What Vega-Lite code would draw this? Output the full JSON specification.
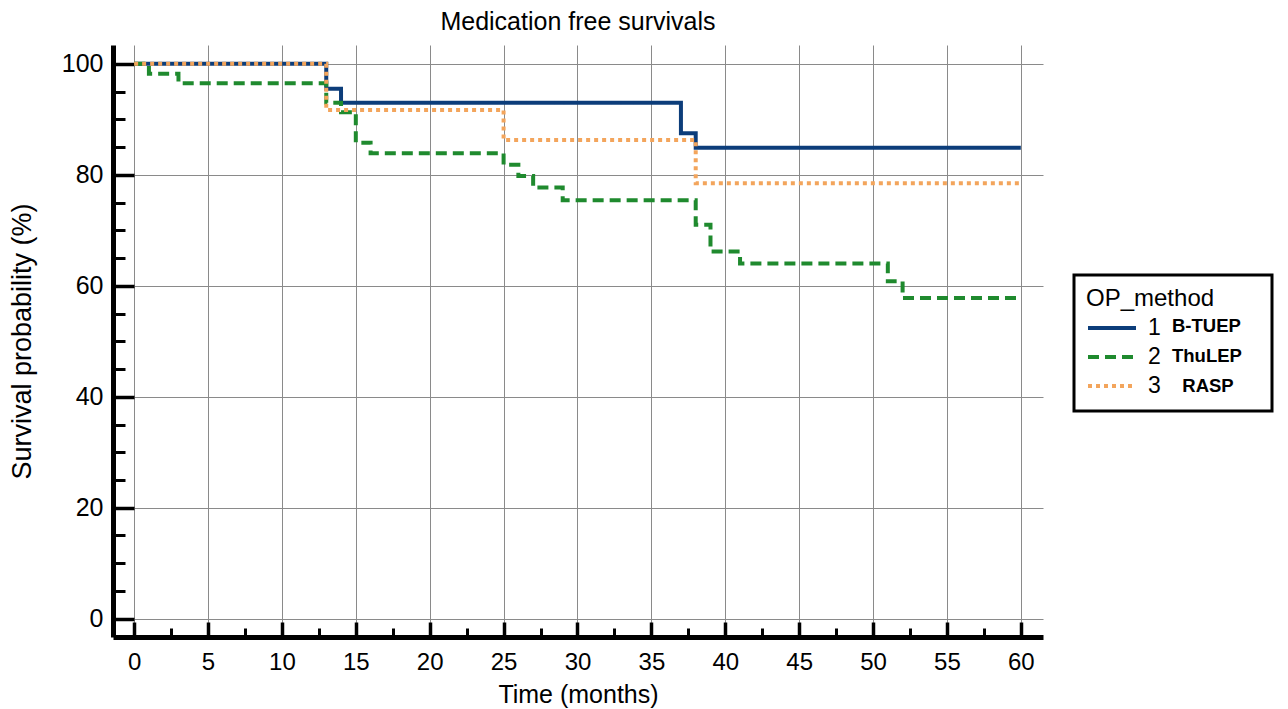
{
  "$schema": "https://vega.github.io/schema/vega-lite/v6.json",
  "autosize": "none",
  "width": 930,
  "height": 592,
  "padding": {"left": 113, "top": 45, "right": 245, "bottom": 72},
  "background": "white",
  "config": {
    "font": "Liberation Sans",
    "view": {"stroke": null},
    "axis": {"labelColor": "black", "titleColor": "black", "titleFontWeight": "normal", "labelFont": "Liberation Sans", "titleFont": "Liberation Sans"},
    "legend": {"labelFont": "Liberation Sans", "titleFont": "Liberation Sans", "strokeWidth": 3}
  },
  "title": {"text": "Medication free survivals", "fontSize": 25, "fontWeight": "normal", "color": "black", "anchor": "middle", "offset": 10, "font": "Liberation Sans"},
  "data": {
    "values": [
      {"group": "1", "name": "B-TUEP", "t": 0, "s": 100},
      {"group": "1", "name": "B-TUEP", "t": 13, "s": 95.5},
      {"group": "1", "name": "B-TUEP", "t": 14, "s": 93.0},
      {"group": "1", "name": "B-TUEP", "t": 37, "s": 87.5},
      {"group": "1", "name": "B-TUEP", "t": 38, "s": 84.9},
      {"group": "1", "name": "B-TUEP", "t": 60, "s": 84.9},
      {"group": "2", "name": "ThuLEP", "t": 0, "s": 100},
      {"group": "2", "name": "ThuLEP", "t": 1, "s": 98.2},
      {"group": "2", "name": "ThuLEP", "t": 3, "s": 96.5},
      {"group": "2", "name": "ThuLEP", "t": 13, "s": 93.0},
      {"group": "2", "name": "ThuLEP", "t": 14, "s": 91.3},
      {"group": "2", "name": "ThuLEP", "t": 15, "s": 85.8},
      {"group": "2", "name": "ThuLEP", "t": 16, "s": 83.9},
      {"group": "2", "name": "ThuLEP", "t": 25, "s": 81.8},
      {"group": "2", "name": "ThuLEP", "t": 26, "s": 79.8},
      {"group": "2", "name": "ThuLEP", "t": 27, "s": 77.7},
      {"group": "2", "name": "ThuLEP", "t": 29, "s": 75.4},
      {"group": "2", "name": "ThuLEP", "t": 38, "s": 71.0},
      {"group": "2", "name": "ThuLEP", "t": 39, "s": 66.2},
      {"group": "2", "name": "ThuLEP", "t": 41, "s": 64.0},
      {"group": "2", "name": "ThuLEP", "t": 51, "s": 60.8},
      {"group": "2", "name": "ThuLEP", "t": 52, "s": 57.8},
      {"group": "2", "name": "ThuLEP", "t": 60, "s": 57.8},
      {"group": "3", "name": "RASP", "t": 0, "s": 100},
      {"group": "3", "name": "RASP", "t": 13, "s": 91.7},
      {"group": "3", "name": "RASP", "t": 25, "s": 86.3},
      {"group": "3", "name": "RASP", "t": 38, "s": 78.5},
      {"group": "3", "name": "RASP", "t": 60, "s": 78.5}
    ]
  },
  "resolve": {"axis": {"x": "independent", "y": "independent"}},
  "layer": [
    {
      "mark": {"type": "line", "interpolate": "step-after", "strokeWidth": 4, "strokeCap": "butt", "clip": true},
      "encoding": {
        "x": {
          "field": "t", "type": "quantitative",
          "scale": {"domain": [-1.43, 61.5], "nice": false, "zero": false},
          "axis": {
            "orient": "bottom",
            "values": [0, 5, 10, 15, 20, 25, 30, 35, 40, 45, 50, 55, 60],
            "grid": true, "gridColor": "#8a8a8a", "gridWidth": 1,
            "domainColor": "black", "domainWidth": 5,
            "tickColor": "black", "tickWidth": 3.5, "tickSize": -15,
            "labelFontSize": 24, "labelPadding": 28,
            "title": "Time (months)", "titleFontSize": 25, "titlePadding": 8
          }
        },
        "y": {
          "field": "s", "type": "quantitative",
          "scale": {"domain": [-3.3, 103.4], "nice": false, "zero": false},
          "axis": {
            "orient": "left",
            "values": [0, 20, 40, 60, 80, 100],
            "grid": true, "gridColor": "#8a8a8a", "gridWidth": 1,
            "domainColor": "black", "domainWidth": 5,
            "tickColor": "black", "tickWidth": 3.5, "tickSize": -21,
            "labelFontSize": 25, "labelPadding": 31,
            "title": "Survival probability (%)", "titleFontSize": 27, "titlePadding": 25
          }
        },
        "stroke": {
          "field": "group", "type": "nominal",
          "scale": {"domain": ["1", "2", "3"], "range": ["#0c3d7a", "#1f8a2e", "#f3a55c"]},
          "legend": {
            "orient": "none", "legendX": 973, "legendY": 266,
            "title": null,
            "labelFontSize": 23, "labelColor": "black", "labelOffset": 19,
            "symbolType": "M-1.6,0H1.6", "symbolSize": 900, "symbolStrokeWidth": 4, "symbolOffset": 9,
            "rowPadding": 0, "padding": 0
          }
        },
        "strokeDash": {
          "field": "group", "type": "nominal",
          "scale": {"domain": ["1", "2", "3"], "range": [[1, 0], [11, 6], [4, 4]]}
        }
      }
    },
    {
      "mark": {"type": "point", "opacity": 0},
      "encoding": {
        "x": {
          "field": "t", "type": "quantitative",
          "scale": {"domain": [-1.43, 61.5], "nice": false, "zero": false},
          "axis": {
            "orient": "bottom",
            "values": [2.5, 7.5, 12.5, 17.5, 22.5, 27.5, 32.5, 37.5, 42.5, 47.5, 52.5, 57.5],
            "grid": false, "domain": false, "labels": false,
            "tickColor": "black", "tickWidth": 3, "tickSize": -9, "title": null
          }
        },
        "y": {
          "field": "s", "type": "quantitative",
          "scale": {"domain": [-3.3, 103.4], "nice": false, "zero": false},
          "axis": {
            "orient": "left",
            "values": [5, 10, 15, 25, 30, 35, 45, 50, 55, 65, 70, 75, 85, 90, 95],
            "grid": false, "domain": false, "labels": false,
            "tickColor": "black", "tickWidth": 3, "tickSize": -12, "title": null
          }
        },
        "shape": {
          "field": "name", "type": "nominal",
          "scale": {"domain": ["B-TUEP", "ThuLEP", "RASP"]},
          "legend": {
            "orient": "none", "legendX": 961, "legendY": 230,
            "title": "OP_method", "titleFontSize": 24, "titleFontWeight": "normal", "titleColor": "black", "titlePadding": 0,
            "symbolType": "circle", "symbolSize": 900, "symbolOpacity": 0, "symbolStrokeWidth": 0,
            "labelFontSize": 18.5, "labelFontWeight": "bold", "labelAlign": "left", "labelOffset": 56,
            "labelExpr": "datum.value === 'RASP' ? '\u200b\u00a0\u00a0RASP\u00a0\u00a0\u00a0\u00a0\u00a0\u200b' : datum.value + '\u00a0\u00a0\u00a0\u200b'",
            "rowPadding": 0, "padding": 12,
            "strokeColor": "black",
            "encode": {
              "legend": {"update": {"strokeWidth": {"value": 3}}},
              "labels": {"update": {"fill": {"signal": "datum.value === 'B-TUEP' ? '#1f3a78' : datum.value === 'ThuLEP' ? '#3c5a22' : '#d0661f'"}}}
            }
          }
        }
      }
    }
  ]
}
